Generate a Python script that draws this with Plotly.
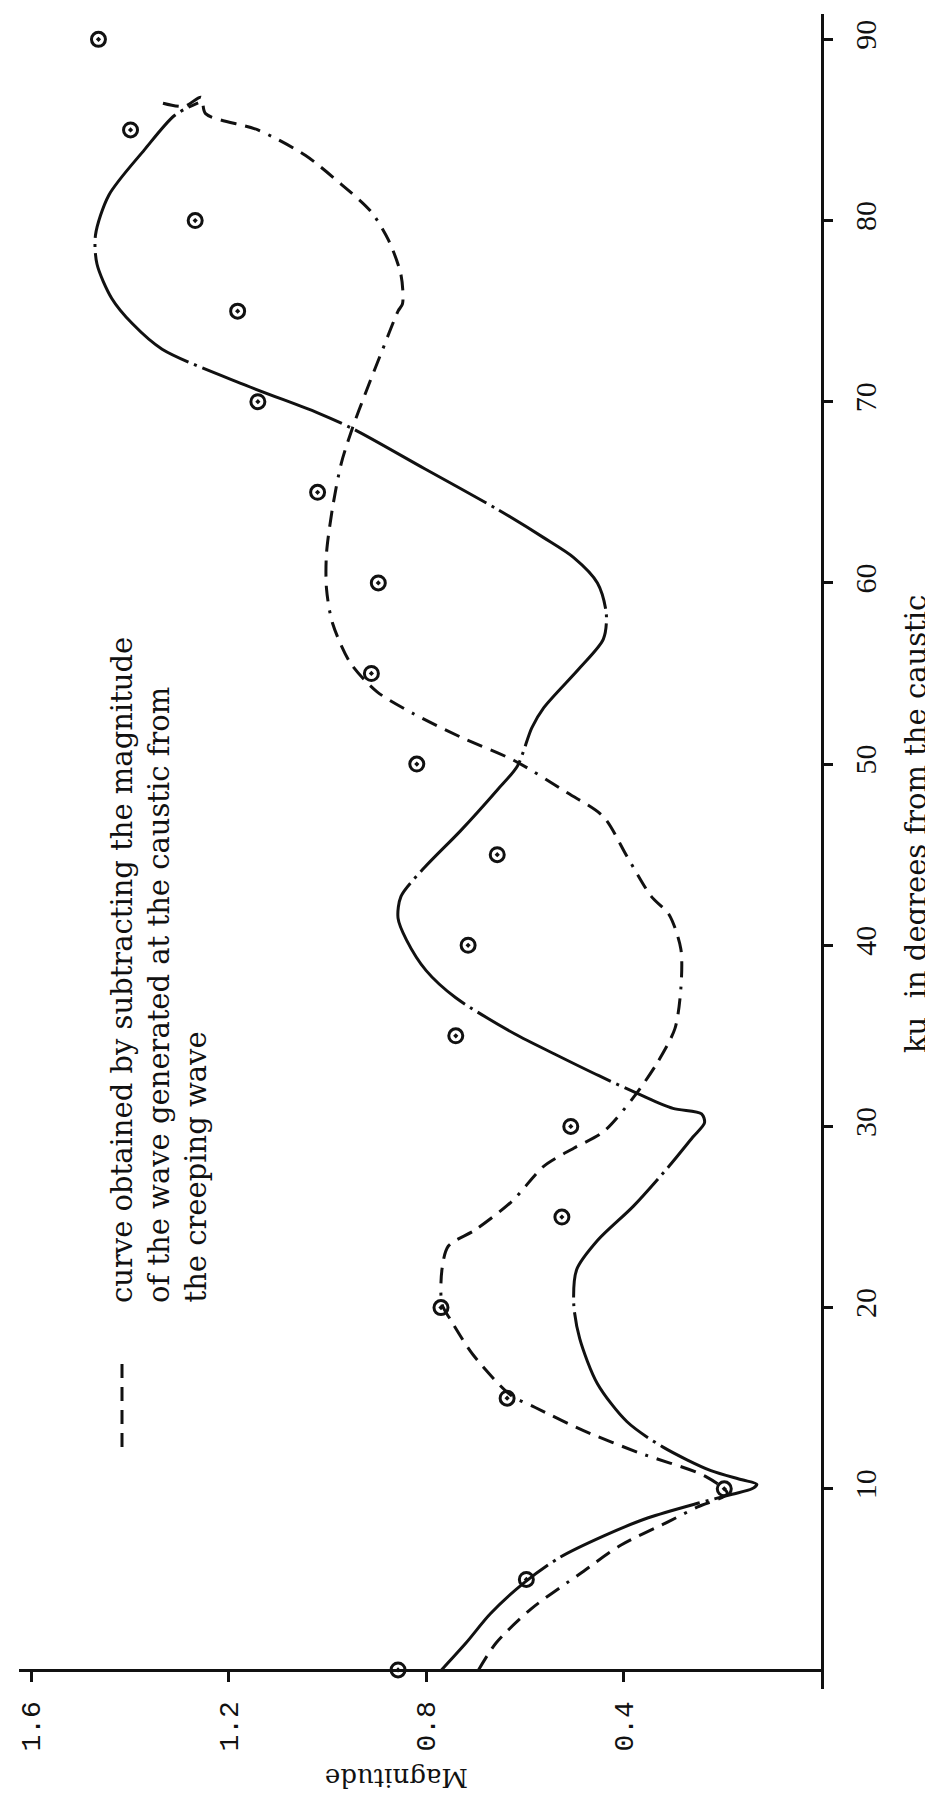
import plotly.graph_objects as go

# ---------------- data ----------------
ku_points = [0, 5, 10, 15, 20, 25, 30, 35, 40, 45, 50, 55, 60, 65, 70, 75, 80, 85, 90]
mag_points = [0.857, 0.597, 0.196, 0.636, 0.770, 0.525, 0.507, 0.740, 0.715, 0.656,
              0.819, 0.911, 0.897, 1.020, 1.141, 1.182, 1.268, 1.399, 1.464]

# long-dash / dot curve (traced along its path)
solid_ku = [0, 1.5, 3.1, 4.85, 6.2, 7.4, 8.4, 9.2, 9.7, 10.0, 10.25, 10.5, 11.0, 12.3, 13.7,
            15.8, 18.3, 20.2, 22.1, 23.7, 25.6, 27.8, 29.4, 30.2, 30.7, 31.0, 31.8, 32.8,
            34.0, 35.1, 37.1, 38.6, 40.3, 41.5, 42.7, 44.3, 46.3, 48.6, 49.9, 52.0, 53.1,
            55.3, 56.9, 58.3, 60.0, 61.4, 62.5, 64.1, 66.3, 68.5, 69.4, 70.9, 72.9, 74.3,
            75.7, 77.6, 79.2, 81.4, 83.9, 85.8, 86.5]
solid_mag = [0.769, 0.719, 0.670, 0.600, 0.530, 0.440, 0.350, 0.250, 0.180, 0.140, 0.130,
             0.160, 0.223, 0.320, 0.393, 0.453, 0.489, 0.501, 0.495, 0.453, 0.380, 0.308,
             0.260, 0.236, 0.242, 0.300, 0.370, 0.450, 0.540, 0.620, 0.740, 0.800, 0.840,
             0.857, 0.851, 0.803, 0.731, 0.655, 0.615, 0.586, 0.562, 0.489, 0.441, 0.435,
             0.453, 0.501, 0.562, 0.658, 0.803, 0.948, 1.021, 1.165, 1.335, 1.395, 1.437,
             1.467, 1.470, 1.443, 1.371, 1.310, 1.262]

# dashed curve (subtracted creeping wave)
dash_ku = [0, 1.5, 3.4, 5.3, 6.9, 8.2, 9.0, 9.75, 10.7, 12.0, 13.2, 14.5, 15.2, 17.4, 19.3,
           20.2, 22.1, 23.4, 24.3, 25.9, 27.8, 28.8, 29.7, 31.6, 33.5, 35.4, 37.6, 39.8,
           41.7, 42.7, 44.9, 47.1, 48.4, 50.2, 51.5, 52.8, 54.0, 55.6, 57.8, 59.7, 61.6,
           64.1, 66.6, 68.5, 70.4, 72.9, 75.0, 75.4, 77.0, 78.9, 80.5, 82.0, 83.6, 85.0,
           85.9, 86.8, 86.3, 86.5]
dash_mag = [0.694, 0.658, 0.586, 0.489, 0.405, 0.308, 0.250, 0.190, 0.235, 0.370, 0.480,
            0.580, 0.630, 0.705, 0.750, 0.768, 0.768, 0.755, 0.700, 0.625, 0.562, 0.501,
            0.441, 0.380, 0.332, 0.296, 0.284, 0.284, 0.308, 0.344, 0.393, 0.441, 0.513,
            0.622, 0.731, 0.827, 0.900, 0.954, 0.990, 1.002, 1.002, 0.990, 0.972, 0.950,
            0.924, 0.888, 0.857, 0.848, 0.851, 0.876, 0.912, 0.972, 1.045, 1.141, 1.247,
            1.256, 1.290, 1.337]

mag_ticks = [1.6, 1.2, 0.8, 0.4]
mag_ticktext = ["1.6", "1.2", "0.8", "0.4"]
ku_ticks = [10, 20, 30, 40, 50, 60, 70, 80, 90]
ku_ticktext = ["10", "20", "30", "40", "50", "60", "70", "80", "90"]

legend_lines = ["curve obtained by subtracting the magnitude",
                "of the wave generated at the caustic from",
                "the creeping wave"]
ku_title = "ku\u00a0 in degrees from the caustic"
mag_title = "Magnitude"

# ---------------- layout geometry ----------------
W, H = 933, 1794
L, R, T, B = 11, 120, 6, 113
PW, PH = W - L - R, H - T - B
X_RANGE = [1.625, 0]
Y_RANGE = [-1.05, 91.4]


def px(xp):
    return (xp - L) / PW


def py(yp):
    return (H - B - yp) / PH


INK = "#111111"
SERIF = "DejaVu Serif"
TIMES = "Liberation Serif"
MONO = "Liberation Mono"

fig = go.Figure()

fig.add_trace(go.Scatter(
    x=solid_mag, y=solid_ku, mode="lines",
    line=dict(color=INK, width=3, shape="spline", smoothing=0.8,
              dash="150px,6px,3px,6px"),
    hoverinfo="skip"))

fig.add_trace(go.Scatter(
    x=dash_mag, y=dash_ku, mode="lines",
    line=dict(color=INK, width=3, shape="spline", smoothing=0.8,
              dash="16px,9px,16px,9px,16px,9px,16px,9px,16px,9px,3px,9px"),
    hoverinfo="skip"))

fig.add_trace(go.Scatter(
    x=mag_points, y=ku_points, mode="markers",
    marker=dict(symbol="circle-open-dot", size=14, color=INK,
                line=dict(width=3, color=INK)),
    hoverinfo="skip"))

fig.update_layout(
    width=W, height=H,
    margin=dict(l=L, r=R, t=T, b=B, pad=0),
    paper_bgcolor="white", plot_bgcolor="white",
    showlegend=False,
    xaxis=dict(range=X_RANGE, anchor="free", position=(0 - Y_RANGE[0]) / (Y_RANGE[1] - Y_RANGE[0]),
               showgrid=False, zeroline=False, showline=True, linewidth=3, linecolor=INK,
               ticks="outside", ticklen=10, tickwidth=3, tickcolor=INK,
               tickvals=mag_ticks, ticktext=mag_ticktext, tickangle=-90,
               tickfont=dict(family=MONO, size=28, color=INK), ticklabelstandoff=8),
    yaxis=dict(range=Y_RANGE, side="right", anchor="x",
               showgrid=False, zeroline=False, showline=True, linewidth=3, linecolor=INK,
               ticks="outside", ticklen=9, tickwidth=3, tickcolor=INK,
               tickvals=ku_ticks, ticktext=ku_ticktext, tickangle=-90,
               tickfont=dict(family=TIMES, size=30, color=INK), ticklabelstandoff=7),
)

# legend text (rotated)
legend_x = [114, 151, 187]
for lx, txt in zip(legend_x, legend_lines):
    fig.add_annotation(text=txt, xref="paper", yref="paper", x=px(lx), y=py(1296),
                       xanchor="center", yanchor="bottom", textangle=-90, showarrow=False,
                       borderpad=0, font=dict(family=SERIF, size=29, color=INK))

# legend dashed sample
fig.add_shape(type="line", xref="paper", yref="paper",
              x0=px(114), x1=px(114), y0=py(1356), y1=py(1440),
              line=dict(color=INK, width=3, dash="14px,9px"))

# axis titles
fig.add_annotation(text=ku_title, xref="paper", yref="paper", x=px(908), y=py(816),
                   xanchor="center", yanchor="middle", textangle=-90, showarrow=False,
                   borderpad=0, font=dict(family=SERIF, size=29, color=INK))
fig.add_annotation(text=mag_title, xref="paper", yref="paper", x=px(389), y=py(1770),
                   xanchor="center", yanchor="middle", textangle=180, showarrow=False,
                   borderpad=0, font=dict(family=SERIF, size=26, color=INK))

fig.write_html("out.html")
